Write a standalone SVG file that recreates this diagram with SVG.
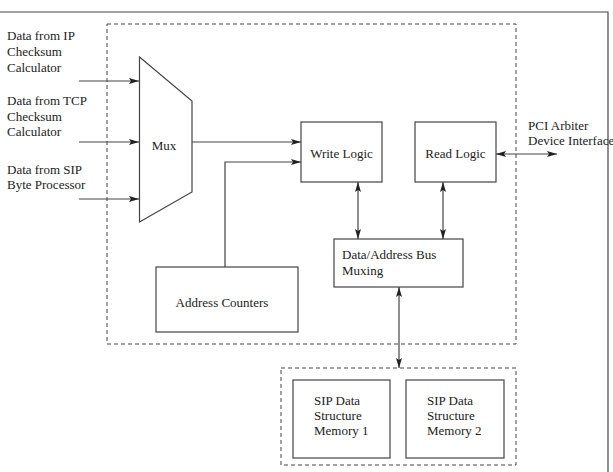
<svg xmlns="http://www.w3.org/2000/svg" width="613" height="472" viewBox="0 0 613 472">
<style>
.box{fill:#fff;stroke:#444;stroke-width:1.2}
.dash{fill:none;stroke:#444;stroke-width:1;stroke-dasharray:4 3}
.ln{fill:none;stroke:#444;stroke-width:1.2}
text{font-family:"Liberation Serif","Times New Roman",serif;font-size:13px;fill:#222}
</style>
<defs>
<marker id="ah" viewBox="0 0 10 6" refX="10" refY="3" markerWidth="10" markerHeight="6" markerUnits="userSpaceOnUse" orient="auto-start-reverse">
<path d="M0,0 L10,3 L0,6 L2,3 Z" fill="#222"/>
</marker>
</defs>
<g id="frame">
<path class="ln" d="M0,12 H608 V472"/>
</g>
<g id="fpga-area"><rect class="dash" x="107" y="24" width="409" height="320"/></g>
<g id="memory-area"><rect class="dash" x="281" y="368" width="235" height="97"/></g>
<g id="labels-in">
<text x="7" y="40">Data from IP</text>
<text x="7" y="56">Checksum</text>
<text x="7" y="72">Calculator</text>
<text x="7" y="105">Data from TCP</text>
<text x="7" y="121">Checksum</text>
<text x="7" y="136">Calculator</text>
<text x="7" y="174">Data from SIP</text>
<text x="7" y="189">Byte Processor</text>
</g>
<g id="mux">
<path class="box" d="M139.5,57 L192,101 L192,192 L139.5,222 Z"/>
<text x="164" y="150" text-anchor="middle">Mux</text>
</g>
<g id="write-logic">
<rect class="box" x="301" y="122" width="81" height="60"/>
<text x="341.5" y="158" text-anchor="middle">Write Logic</text>
</g>
<g id="read-logic">
<rect class="box" x="415" y="122" width="81" height="60"/>
<text x="455.5" y="158" text-anchor="middle">Read Logic</text>
</g>
<g id="bus-muxing">
<rect class="box" x="334" y="239" width="129" height="48"/>
<text x="342" y="259">Data/Address Bus</text>
<text x="342" y="275">Muxing</text>
</g>
<g id="address-counters">
<rect class="box" x="156" y="267" width="142" height="65"/>
<text x="222" y="307" text-anchor="middle">Address Counters</text>
</g>
<g id="memory1">
<rect class="box" x="293" y="380" width="97" height="78"/>
<text x="314" y="405">SIP Data</text>
<text x="314" y="420">Structure</text>
<text x="314" y="435">Memory 1</text>
</g>
<g id="memory2">
<rect class="box" x="406" y="380" width="98" height="78"/>
<text x="427" y="405">SIP Data</text>
<text x="427" y="420">Structure</text>
<text x="427" y="435">Memory 2</text>
</g>
<g id="pci-label">
<text x="528" y="130">PCI Arbiter</text>
<text x="528" y="145">Device Interface</text>
</g>
<g id="connectors">
<path class="ln" d="M79,81 H139" marker-end="url(#ah)"/>
<path class="ln" d="M79,142 H139" marker-end="url(#ah)"/>
<path class="ln" d="M79,199 H139" marker-end="url(#ah)"/>
<path class="ln" d="M192,142 H301" marker-end="url(#ah)"/>
<path class="ln" d="M225,267 V162 H301" marker-end="url(#ah)"/>
<path class="ln" d="M496,154 H557" marker-start="url(#ah)" marker-end="url(#ah)"/>
<path class="ln" d="M358,182 V239" marker-start="url(#ah)" marker-end="url(#ah)"/>
<path class="ln" d="M443,182 V239" marker-start="url(#ah)" marker-end="url(#ah)"/>
<path class="ln" d="M399,287 V368" marker-start="url(#ah)" marker-end="url(#ah)"/>
</g>
</svg>
